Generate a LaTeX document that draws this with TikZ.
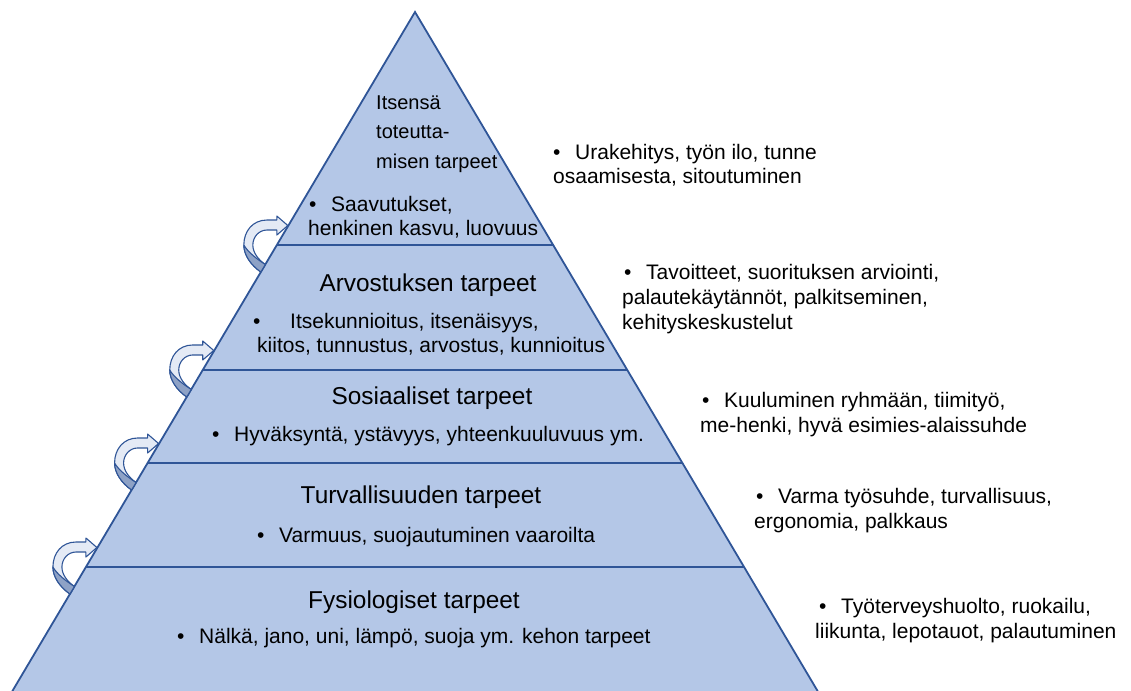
\documentclass[tikz,border=0pt]{standalone}
\usepackage{fontspec}
\setmainfont{Liberation Sans}
\usetikzlibrary{calc}
\definecolor{layerfill}{HTML}{B4C7E7}
\definecolor{layerline}{HTML}{2F5597}
\definecolor{arrowlight}{HTML}{E4EAF5}
\definecolor{arrowdark}{HTML}{8EA2C6}
\tikzset{
  edge/.style={draw=layerline, line width=1.8pt, line join=miter},
  divider/.style={draw=layerline, line width=1.3pt},
  arrowline/.style={draw=layerline, line width=1.1pt, line join=round},
  title/.style={inner sep=0pt, font=\fontsize{24.4}{29}\selectfont, anchor=base},
  toptitle/.style={inner sep=0pt, font=\fontsize{20}{29}\selectfont, anchor=base west},
  body/.style={inner sep=0pt, font=\fontsize{21}{24}\selectfont, anchor=base west},
  bendarrow/.pic={
    % band with head, curving round from below the divider to above it
    \path[arrowline, fill=arrowlight]
      (-16,27) .. controls (-26,20) and (-33,10) .. (-33,0)
      .. controls (-33,-14) and (-24,-25) .. (-10,-25) -- (0,-25)
      -- (0,-29) -- (11,-19.5) -- (0,-10) -- (0,-15) -- (-10,-15)
      .. controls (-18,-15) and (-24,-8) .. (-24,0)
      .. controls (-24,8) and (-18,15) .. (-11.5,19.5) -- cycle;
    % shaded back face of the band
    \path[arrowline, fill=arrowdark]
      (-33,0) .. controls (-33,10) and (-26,20) .. (-16,27)
      -- (-11.5,19.5) .. controls (-20,14) and (-29,7) .. (-33,0) -- cycle;
  }
}
\newcommand{\bul}{\makebox[22pt][l]{•}}
\begin{document}
\begin{tikzpicture}[x=1pt,y=-1pt]
\useasboundingbox (0,0) rectangle (1131,690);
\clip (0,0) rectangle (1131,690);

% pyramid outline
\coordinate (apex) at (415,12);
\coordinate (bl) at (13,690);
\coordinate (br) at (817,690);
\fill[layerfill] (apex) -- ($(apex)!1.02!(bl)$) -- ($(apex)!1.02!(br)$) -- cycle;
\draw[edge] ($(apex)!1.02!(bl)$) -- (apex) -- ($(apex)!1.02!(br)$);

% layer boundaries
\coordinate (d1l) at ($(apex)!0.3437!(bl)$);
\coordinate (d1r) at ($(apex)!0.3437!(br)$);
\coordinate (d2l) at ($(apex)!0.5280!(bl)$);
\coordinate (d2r) at ($(apex)!0.5280!(br)$);
\coordinate (d3l) at ($(apex)!0.6652!(bl)$);
\coordinate (d3r) at ($(apex)!0.6652!(br)$);
\coordinate (d4l) at ($(apex)!0.8186!(bl)$);
\coordinate (d4r) at ($(apex)!0.8186!(br)$);
\draw[divider] (d1l) -- (d1r);
\draw[divider] (d2l) -- (d2r);
\draw[divider] (d3l) -- (d3r);
\draw[divider] (d4l) -- (d4r);

% curved arrows between layers
\pic at (d1l) {bendarrow};
\pic at (d2l) {bendarrow};
\pic at (d3l) {bendarrow};
\pic at (d4l) {bendarrow};

% layer 1
\node[toptitle] (t1a) at (376,110) {Itsensä};
\node[toptitle] (t1b) at (376,139) {toteutta-};
\node[toptitle] (t1c) at (376,168) {misen tarpeet};
\node[body] (b1a) at (309,211.5) {\bul Saavutukset,};
\node[body] (b1b) at (308,235.5) {henkinen kasvu, luovuus};

% layer 2
\node[title] (t2) at (428,291) {Arvostuksen tarpeet};
\node[body] (b2a) at (253,328.5) {\makebox[37pt][l]{•}Itsekunnioitus, itsenäisyys,};
\node[body] (b2b) at (257,352.5) {kiitos, tunnustus, arvostus, kunnioitus};

% layer 3
\node[title] (t3) at (432,404.8) {Sosiaaliset tarpeet};
\node[body] (b3) at (212,441.5) {\bul Hyväksyntä, ystävyys, yhteenkuuluvuus ym.};

% layer 4
\node[title] (t4) at (421,503) {Turvallisuuden tarpeet};
\node[body] (b4) at (257,542.5) {\bul Varmuus, suojautuminen vaaroilta};

% layer 5
\node[title] (t5) at (414,608) {Fysiologiset tarpeet};
\node[body] (b5) at (177,643.5) {\bul Nälkä, jano, uni, lämpö, suoja ym. kehon tarpeet};

% work-life examples beside the layers
\node[body] (r1a) at (553,159.5) {\bul Urakehitys, työn ilo, tunne};
\node[body] (r1b) at (553,183.5) {osaamisesta, sitoutuminen};

\node[body] (r2a) at (624,279.5) {\bul Tavoitteet, suorituksen arviointi,};
\node[body] (r2b) at (622,304.5) {palautekäytännöt, palkitseminen,};
\node[body] (r2c) at (622,329.5) {kehityskeskustelut};

\node[body] (r3a) at (702,407.5) {\bul Kuuluminen ryhmään, tiimityö,};
\node[body] (r3b) at (700,432.5) {me-henki, hyvä esimies-alaissuhde};

\node[body] (r4a) at (756,503.5) {\bul Varma työsuhde, turvallisuus,};
\node[body] (r4b) at (754,528.5) {ergonomia, palkkaus};

\node[body] (r5a) at (819,613.5) {\bul Työterveyshuolto, ruokailu,};
\node[body] (r5b) at (815,638.5) {liikunta, lepotauot, palautuminen};
\end{tikzpicture}
\end{document}
